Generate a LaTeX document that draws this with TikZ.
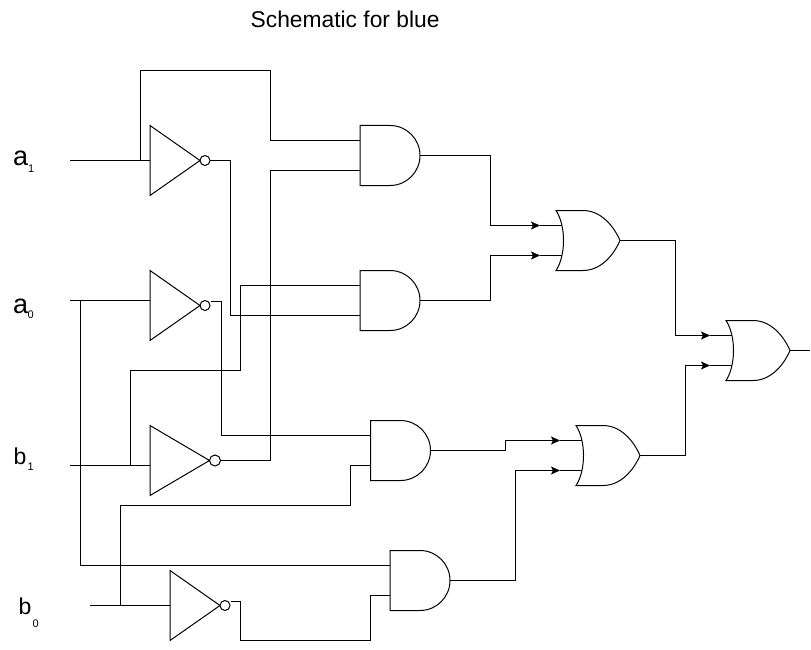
\documentclass[tikz,border=0pt]{standalone}
\usepackage{fontspec}
\setmainfont{Liberation Sans}
\usetikzlibrary{arrows.meta}
\tikzset{
  gate/.style={draw=black,line width=1pt,fill=white,line join=miter},
  wire/.style={draw=black,line width=1pt},
  arrowwire/.style={wire,-{Stealth[length=9,width=8,inset=2]}},
  lbl/.style={inner sep=0pt,anchor=base west,text=black},
  bigfont/.style={font=\fontsize{27}{28}\selectfont},
  midfont/.style={font=\fontsize{23}{24}\selectfont},
  subfont/.style={font=\fontsize{11}{12}\selectfont}
}
% name, left x, top y
\newcommand{\andgate}[3]{%
  \draw[gate] (#2,#3) -- (#2+30,#3) .. controls (#2+46.57,#3) and (#2+60,#3+13.43) .. (#2+60,#3+30)
     .. controls (#2+60,#3+46.57) and (#2+46.57,#3+60) .. (#2+30,#3+60) -- (#2,#3+60) -- cycle;
  \coordinate (#1-a) at (#2,#3+15);
  \coordinate (#1-b) at (#2,#3+45);
  \coordinate (#1-o) at (#2+60,#3+30);
}
\newcommand{\orgate}[3]{%
  \draw[gate] (#2,#3) -- (#2+27,#3) .. controls (#2+44,#3) and (#2+57,#3+14) .. (#2+64,#3+30)
     .. controls (#2+57,#3+46) and (#2+44,#3+60) .. (#2+27,#3+60) -- (#2,#3+60)
     .. controls (#2+10,#3+45) and (#2+10,#3+15) .. (#2,#3) -- cycle;
  \coordinate (#1-a) at (#2+6.3,#3+15);
  \coordinate (#1-b) at (#2+6.3,#3+45);
  \coordinate (#1-o) at (#2+64,#3+30);
  \coordinate (#1-at) at (#2-16,#3+15);
  \coordinate (#1-bt) at (#2-16,#3+45);
}
% name, left x, top y, tip x, bubble radius
\newcommand{\notgate}[5]{%
  \draw[gate] (#2,#3) -- (#4,#3+35) -- (#2,#3+70) -- cycle;
  \draw[gate] (#4+#5,#3+35) circle[radius=#5];
  \coordinate (#1-i) at (#2,#3+35);
  \coordinate (#1-o) at (#4+2*#5,#3+35);
}
\begin{document}
\begin{tikzpicture}[x=1pt,y=-1pt]
\useasboundingbox (0,-0.5) rectangle (811,649.5);
\fill[white] (0,-0.5) rectangle (811,649.5);

% Labels
\node[lbl,font=\fontsize{22.8}{24}\selectfont] (title) at (250.5,27.5) {Schematic for blue};
\node[lbl,bigfont] (la1) at (13,165) {a};
\node[lbl,subfont] (la1s) at (28,172) {1};
\node[lbl,bigfont] (la0) at (13,313) {a};
\node[lbl,subfont] (la0s) at (27.5,318) {0};
\node[lbl,midfont] (lb1) at (13.5,463.5) {b};
\node[lbl,subfont] (lb1s) at (27.5,469.5) {1};
\node[lbl,midfont] (lb0) at (18.5,613.5) {b};
\node[lbl,subfont] (lb0s) at (32.5,627) {0};

% Gates
\notgate{n1}{150}{125}{200}{5}
\notgate{n2}{150}{270}{200}{5}
\notgate{n3}{150}{425}{209.5}{5.5}
\notgate{n4}{170}{570}{220}{5}
\andgate{g1}{360}{125}
\andgate{g2}{360}{270}
\andgate{g3}{370.5}{420}
\andgate{g4}{390}{550}
\orgate{r1}{556}{210}
\orgate{r2}{576}{425}
\orgate{r3}{726}{320}

% Input and junction points
\coordinate (a1) at (70,160);
\coordinate (a0) at (70,300);
\coordinate (b1) at (70,465);
\coordinate (b0) at (90,605);
\coordinate (n2-in) at (150,300);
\coordinate (n3-in) at (150,465);
\coordinate (n2-out) at (210.5,301);
\coordinate (n4-out) at (230.5,601);
\coordinate (a1j) at (140,160);
\coordinate (a0j) at (80,300);
\coordinate (b1j) at (130,465);
\coordinate (b0j) at (120,605);
\coordinate (r3-out) at (810,350);

% Inputs
\draw[wire] (a1) -- (n1-i);
\draw[wire] (a0) -- (n2-in);
\draw[wire] (b1) -- (n3-in);
\draw[wire] (b0) -- (n4-i);

% Branches
\draw[wire] (a1j) -- (140,70) -- (270,70) -- (270,140) -- (g1-a);
\draw[wire] (a0j) -- (80,565) -- (390,565) -- (g4-a);
\draw[wire] (b1j) -- (130,370) -- (240,370) -- (240,285) -- (g2-a);
\draw[wire] (b0j) -- (120,505) -- (350,505) -- (350,465) -- (g3-b);

% Inverter outputs
\draw[wire] (n1-o) -- (230,160) -- (230,315) -- (g2-b);
\draw[wire] (n2-out) -- (221.5,301) -- (221.5,435) -- (g3-a);
\draw[wire] (n3-o) -- (270,460) -- (270,170) -- (g1-b);
\draw[wire] (n4-out) -- (240,601) -- (240,640) -- (370,640) -- (370,595) -- (g4-b);

% AND to OR
\draw[arrowwire] (g1-o) -- (490,155) -- (490,225) -- (r1-at);
\draw[wire] (r1-at) -- (r1-a);
\draw[arrowwire] (g2-o) -- (490,300) -- (490,255) -- (r1-bt);
\draw[wire] (r1-bt) -- (r1-b);
\draw[arrowwire] (g3-o) -- (505,450) -- (505,440) -- (r2-at);
\draw[wire] (r2-at) -- (r2-a);
\draw[arrowwire] (g4-o) -- (515,580) -- (515,470) -- (r2-bt);
\draw[wire] (r2-bt) -- (r2-b);

% OR to OR
\draw[arrowwire] (r1-o) -- (675,240) -- (675,335) -- (r3-at);
\draw[wire] (r3-at) -- (r3-a);
\draw[arrowwire] (r2-o) -- (685,455) -- (685,365) -- (r3-bt);
\draw[wire] (r3-bt) -- (r3-b);
\draw[wire] (r3-o) -- (r3-out);
\end{tikzpicture}
\end{document}
